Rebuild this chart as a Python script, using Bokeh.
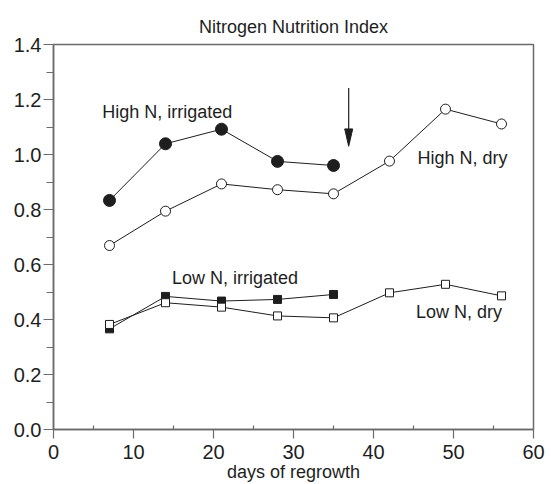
from bokeh.plotting import figure
from bokeh.models import Range1d, FixedTicker, NumeralTickFormatter, Label, Title
from bokeh.embed import file_html
from bokeh.resources import INLINE

days_full = [7, 14, 21, 28, 35, 42, 49, 56]
days_irr = [7, 14, 21, 28, 35]

high_irr = [0.833, 1.039, 1.092, 0.975, 0.960]
high_dry = [0.669, 0.794, 0.893, 0.872, 0.857, 0.976, 1.165, 1.111]
low_irr = [0.366, 0.484, 0.467, 0.473, 0.491]
low_dry = [0.382, 0.461, 0.445, 0.413, 0.406, 0.497, 0.528, 0.486]

x_ticks = [0, 10, 20, 30, 40, 50, 60]
y_ticks = [0.0, 0.2, 0.4, 0.6, 0.8, 1.0, 1.2, 1.4]

title_text = "Nitrogen Nutrition Index"
x_label = "days of regrowth"

labels = [
    ("High N, irrigated", 6.1, 1.154),
    ("High N, dry", 45.5, 0.988),
    ("Low N, irrigated", 14.8, 0.552),
    ("Low N, dry", 45.3, 0.427),
]

arrow_x = 36.9
arrow_top = 1.242
arrow_tip = 1.030
arrow_head_len = 0.063
arrow_head_half = 0.5

FONT = "Liberation Sans"
INK = "#1e1e1e"
AXIS = "#6a6a6a"

p = figure(width=545, height=484, output_backend="svg", toolbar_location=None,
           x_range=Range1d(0, 60), y_range=Range1d(0, 1.4),
           min_border_left=53, min_border_right=12, min_border_top=44, min_border_bottom=55)
p.title = None
p.grid.visible = False
p.background_fill_color = "white"
p.border_fill_color = "white"
p.outline_line_color = AXIS
p.outline_line_width = 1.5

# spacer (closest to frame), then the visible title above it
p.add_layout(Title(text=" ", text_font_size="6px", standoff=0), "above")
p.add_layout(Title(text=title_text, text_font=FONT, text_font_size="18px",
                   text_font_style="normal", text_color=INK, align="center",
                   standoff=0), "above")

for ax in (p.xaxis[0], p.yaxis[0]):
    ax.axis_line_color = AXIS
    ax.axis_line_width = 1.5
    ax.major_tick_line_color = AXIS
    ax.minor_tick_line_color = AXIS
    ax.major_tick_line_width = 1.2
    ax.minor_tick_line_width = 1.2
    ax.major_label_text_font = FONT
    ax.major_label_text_font_size = "20px"
    ax.major_label_text_color = INK

p.xaxis.ticker = FixedTicker(ticks=x_ticks, minor_ticks=[5, 15, 25, 35, 45, 55])
p.xaxis.major_tick_out = 9
p.xaxis.major_tick_in = 0
p.xaxis.minor_tick_in = 4
p.xaxis.minor_tick_out = 0
p.xaxis.major_label_standoff = 6
p.xaxis.axis_label = x_label
p.xaxis.axis_label_text_font = FONT
p.xaxis.axis_label_text_font_size = "18px"
p.xaxis.axis_label_text_font_style = "normal"
p.xaxis.axis_label_text_color = INK
p.xaxis.axis_label_standoff = 0

p.yaxis.ticker = FixedTicker(ticks=y_ticks, minor_ticks=[0.1, 0.3, 0.5, 0.7, 0.9, 1.1, 1.3])
p.yaxis.formatter = NumeralTickFormatter(format="0.0")
p.yaxis.major_tick_out = 10
p.yaxis.major_tick_in = 0
p.yaxis.minor_tick_out = 7
p.yaxis.minor_tick_in = 0
p.yaxis.major_label_standoff = 2

# lines
for xs, ys in ((days_irr, high_irr), (days_full, high_dry), (days_irr, low_irr), (days_full, low_dry)):
    p.line(xs, ys, line_color=INK, line_width=1)

p.scatter(days_irr, high_irr, marker="circle", size=12, fill_color=INK, line_color=INK)
p.scatter(days_full, high_dry, marker="circle", size=10, fill_color="white", line_color=INK, line_width=1)
p.scatter(days_irr, low_irr, marker="square", size=8, fill_color=INK, line_color=INK)
p.scatter(days_full, low_dry, marker="square", size=8, fill_color="white", line_color=INK, line_width=1)

for txt, lx, ly in labels:
    p.add_layout(Label(x=lx, y=ly, text=txt, text_font=FONT, text_font_size="18px",
                       text_color=INK, text_baseline="middle", text_align="left"))

# arrow
p.segment(x0=[arrow_x], y0=[arrow_top], x1=[arrow_x], y1=[arrow_tip + arrow_head_len],
          line_color=INK, line_width=1.2)
p.patch([arrow_x - arrow_head_half, arrow_x + arrow_head_half, arrow_x],
        [arrow_tip + arrow_head_len, arrow_tip + arrow_head_len, arrow_tip],
        fill_color=INK, line_color=INK, line_width=1)

open("out.html", "w").write(file_html(p, INLINE))
